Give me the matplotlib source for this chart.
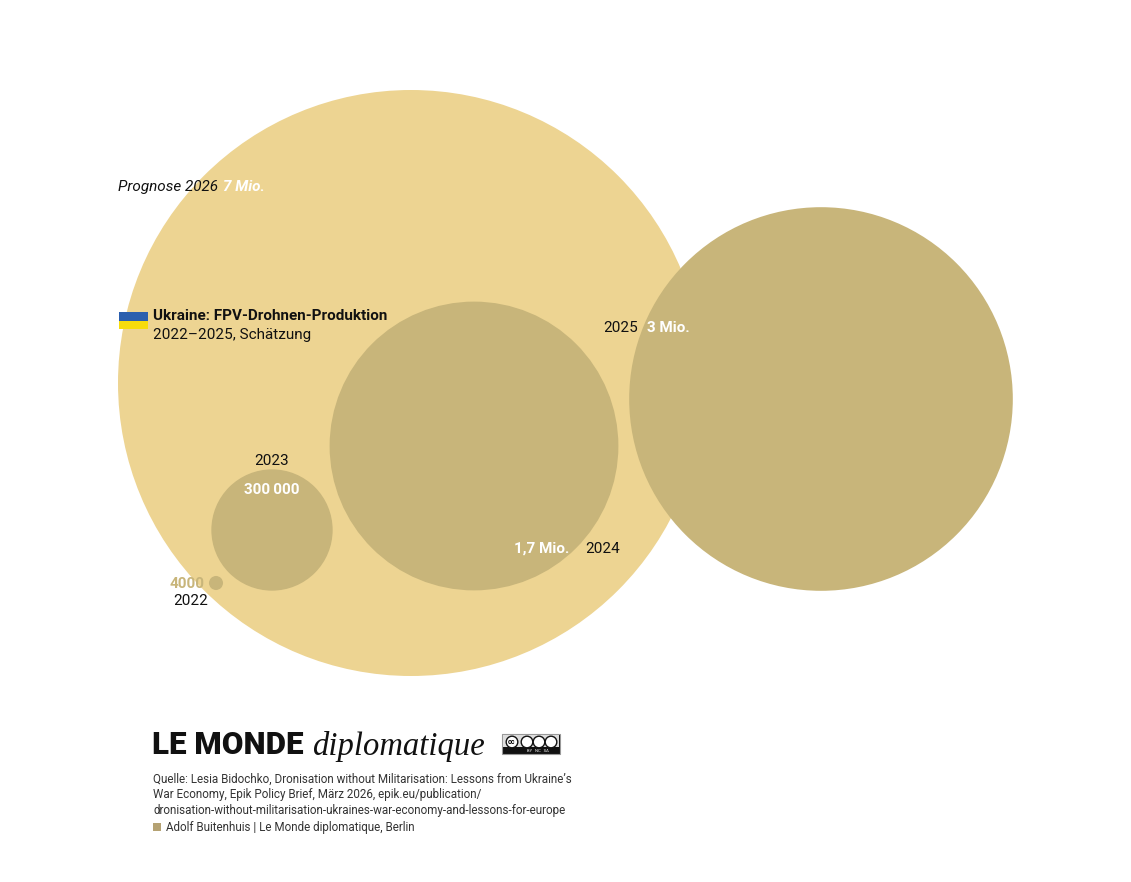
import numpy as np
import matplotlib
matplotlib.use("Agg")
import matplotlib.pyplot as plt
from matplotlib.patches import Circle, Rectangle

# data: Ukraine FPV drone production (units)
years = ["2022", "2023", "2024", "2025", "Prognose 2026"]
values = [4000, 300000, 1700000, 3000000, 7000000]
value_labels = ["4000", "300\u2009000", "1,7 Mio.", "3 Mio.", "7 Mio."]

# layout (pixel coords), radius of largest circle in px
centers = [(216, 583), (272, 530), (474, 446), (821, 399), (411, 383)]
R_MAX = 293

LIGHT = "#edd492"
DARK = "#c8b57a"

plt.rcParams["font.family"] = ["Roboto", "DejaVu Sans"]

fig = plt.figure(figsize=(11.31, 8.82), dpi=100)
ax = fig.add_axes([0, 0, 1, 1])
ax.set_xlim(0, 1131)
ax.set_ylim(882, 0)
ax.axis("off")


def radius(v):
    return np.sqrt(v / max(values)) * R_MAX


# draw largest first
order = np.argsort(values)[::-1]
for i in order:
    col = LIGHT if i == len(values) - 1 else DARK
    ax.add_patch(Circle(centers[i], radius(values[i]), color=col, lw=0, zorder=2))

fs = 11
# 2026
ax.text(118, 187, years[4], fontsize=fs, style="italic", color="#111", va="center", zorder=5)
ax.text(223, 187, value_labels[4], fontsize=fs, style="italic", weight="bold", color="white",
        va="center", zorder=5)
# 2025
ax.text(638, 328, years[3], fontsize=fs, color="#111", va="center", ha="right", zorder=5)
ax.text(647, 328, value_labels[3], fontsize=fs, weight="bold", color="white", va="center", zorder=5)
# 2024
ax.text(585, 549, years[2], fontsize=fs, color="#111", va="center", zorder=5)
ax.text(569, 549, value_labels[2], fontsize=fs, weight="bold", color="white", va="center",
        ha="right", zorder=5)
# 2023
ax.text(272, 461, years[1], fontsize=fs, color="#111", va="center", ha="center", zorder=5)
ax.text(272, 490, value_labels[1], fontsize=fs, weight="bold", color="white", va="center",
        ha="center", zorder=5)
# 2022
ax.text(205, 584, value_labels[0], fontsize=fs, weight="bold", color=DARK, va="center",
        ha="right", zorder=5)
ax.text(173, 601, years[0], fontsize=fs, color="#111", va="center", zorder=5)

# title with flag
ax.add_patch(Rectangle((119, 312), 29, 8.5, color="#2b5fae", lw=0, zorder=5))
ax.add_patch(Rectangle((119, 320.5), 29, 8.5, color="#f7dc0c", lw=0, zorder=5))
ax.text(153, 316, "Ukraine: FPV-Drohnen-Produktion", fontsize=fs, weight="bold", color="#111",
        va="center", zorder=5)
ax.text(153, 335, "2022\u20132025, Schätzung", fontsize=fs, color="#111", va="center", zorder=5)

# logo
ax.text(152, 745, "LE MONDE", fontsize=22.5, weight="black", color="#111", va="center", zorder=5)
ax.text(312, 747, "diplomatique", fontsize=23.5, style="italic", color="#111", va="center",
        family=["Liberation Serif"], zorder=5)
# cc badge
ax.add_patch(Rectangle((502, 734), 58, 20, facecolor="#111", edgecolor="#999", lw=0.8, zorder=5))
ax.add_patch(Rectangle((503, 735), 56, 12, facecolor="#ddd", lw=0, zorder=5))
for cx in [512, 527, 539, 551]:
    ax.add_patch(Circle((cx, 742), 5.8, facecolor="white", edgecolor="#111", lw=1.0, zorder=6))
ax.text(512, 742, "cc", fontsize=5, weight="bold", ha="center", va="center", zorder=7)
ax.text(538, 751, "BY   NC   SA", fontsize=3, color="white", ha="center", va="center", zorder=7)

src = ["Quelle: Lesia Bidochko, Dronisation without Militarisation: Lessons from Ukraine\u2019s",
       "War Economy, Epik Policy Brief, März 2026, epik.eu/publication/",
       "dronisation-without-militarisation-ukraines-war-economy-and-lessons-for-europe"]
for k, line in enumerate(src):
    ax.text(153, 779 + k * 15.7, line, fontsize=8.4, color="#333", va="center", zorder=5)
ax.add_patch(Rectangle((153, 823), 8, 8, color="#b5a273", lw=0, zorder=5))
ax.text(166, 827, "Adolf Buitenhuis | Le Monde diplomatique, Berlin", fontsize=8.4, color="#333",
        va="center", zorder=5)

fig.savefig("out.png", dpi=100, facecolor="white")
